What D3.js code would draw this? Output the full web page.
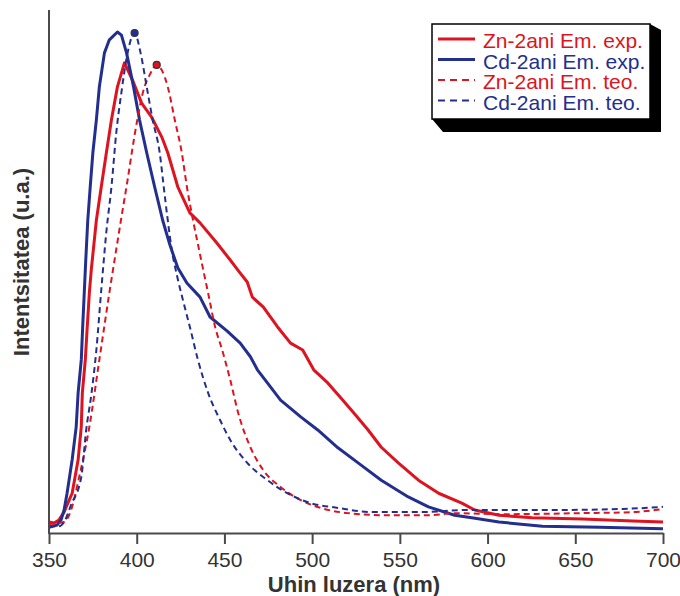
<!DOCTYPE html>
<html>
<head>
<meta charset="utf-8">
<script src="https://cdn.jsdelivr.net/npm/d3@7"></script>
<style>
  body { margin: 0; background: #fff; }
  text { font-family: Arial, "Liberation Sans", sans-serif; }
</style>
</head>
<body>
<div id="chart"></div>
<script>
// emission spectra, intensity (arbitrary units, 0-100)
var ticksNm = [350, 400, 450, 500, 550, 600, 650, 700];

var znExpNm = [350,352.9,355.7,358.6,361.5,363.2,366.6,368.4,369.0,370.7,371.8,373.0,374.1,377.0,379.8,382.7,385.6,389.0,393.0,397.6,402.8,408.5,414.3,417.7,423.4,430.3,436.1,445.8,453.3,459.0,463.0,465.9,472.2,480.3,487.7,494.6,500.9,508.9,516.4,523.9,531.9,539.4,549.1,560.6,572.1,585.3,592.7,606.5,625.4,654.1,682.8,700];
var znExpI = [2.1,1.9,2.5,4.0,6.3,7.6,14.0,20.3,26.8,33.1,39.4,45.9,50.3,59.8,66.2,72.7,79.0,85.3,89.9,86.6,82.2,79.5,75.7,72.7,66.2,61.2,59.3,55.4,52.2,49.7,48.0,45.1,43.2,39.4,36.3,35.0,31.2,28.7,25.8,22.9,19.7,16.4,13.4,10.1,7.6,5.7,4.4,3.4,2.9,2.7,2.3,2.1];

var cdExpNm = [350,354.6,356.9,358.6,360.3,363.2,365.5,366.6,368.4,369.2,370.1,370.9,372.1,373.5,375.0,377.0,378.7,381.6,384.4,389.0,391.3,394.2,398.2,401.6,405.7,410.2,414.8,418.9,423.4,428.6,436.1,441.8,451.6,459.0,464.8,468.8,474.5,482.0,493.5,503.2,514.7,526.2,539.4,554.8,566.3,581.2,591.0,606.5,631.2,663.9,700];
var cdExpI = [1.1,1.5,2.5,4.4,7.6,14.0,20.3,26.8,33.1,39.4,45.9,51.8,59.8,66.2,72.7,79.0,85.3,91.8,94.3,95.8,95.2,91.8,85.3,79.0,72.7,66.2,59.8,55.1,50.7,47.8,45.1,41.3,38.6,36.3,33.7,31.2,28.7,25.4,22.2,19.7,16.3,13.4,10.1,6.9,5.0,3.4,2.9,2.1,1.3,1.1,0.8];

var znTeoNm = [350,358.6,362.6,367.2,373.0,378.7,384.4,387.9,391.3,394.8,397.6,400.5,403.9,407.4,411.4,414.3,417.7,421.7,425.7,428.6,432.1,434.9,437.8,440.7,444.7,448.7,453.3,457.9,464.8,472.2,482.0,493.5,504.9,520.4,543.4,566.3,581.2,608.2,654.1,682.8,700];
var znTeoI = [1.7,2.1,4.4,10.7,20.3,33.1,45.9,53.3,60.4,67.5,73.6,79.3,84.7,87.6,89.5,88.5,85.3,79.0,72.7,66.2,59.8,55.2,50.5,45.9,39.4,35.0,29.3,22.9,16.4,12.0,8.8,6.3,4.8,3.8,3.4,3.4,3.8,3.6,3.8,4.0,4.6];

var cdTeoNm = [350,355.7,358.6,362.6,368.4,371.2,374.1,377.0,379.8,382.7,385.6,388.4,391.3,394.8,398.8,402.2,405.7,409.1,413.1,415.4,417.7,420.0,422.9,426.3,430.3,434.9,440.7,447.5,453.3,463.0,474.5,486.0,499.2,514.7,533.6,562.3,589.3,636.9,677.1,700];
var cdTeoI = [1.3,1.3,2.1,5.4,10.7,19.7,26.4,35.0,46.5,57.6,66.2,76.7,84.3,91.8,95.6,91.8,85.3,79.0,72.7,66.2,59.8,54.1,49.3,44.6,39.4,33.1,26.8,21.6,17.8,13.4,10.1,7.6,5.7,4.8,4.0,4.0,4.4,4.4,4.6,5.0];

var seriesNames = ["Zn-2ani Em. exp.", "Cd-2ani Em. exp.", "Zn-2ani Em. teo.", "Cd-2ani Em. teo."];

var red = "#dd1420", blue = "#232f8e";

var series = [
  {name: seriesNames[0], nm: znExpNm, val: znExpI, color: red, dash: null, w: 3},
  {name: seriesNames[1], nm: cdExpNm, val: cdExpI, color: blue, dash: null, w: 3},
  {name: seriesNames[2], nm: znTeoNm, val: znTeoI, color: red, dash: "6,4", w: 2},
  {name: seriesNames[3], nm: cdTeoNm, val: cdTeoI, color: blue, dash: "6,4", w: 2}
];

var width = 680, height = 596;
var svg = d3.select("#chart")
  .append("svg")
  .attr("width", width)
  .attr("height", height);

var x = d3.scaleLinear().domain([350, 700]).range([49, 663]);
var y = d3.scaleLinear().domain([0, 100]).range([533, 10]);

// curves
series.forEach(function(s) {
  var pts = s.nm.map(function(d, i) { return [d, s.val[i]]; });
  var line = d3.line()
    .x(function(d) { return x(d[0]); })
    .y(function(d) { return y(d[1]); })
    .curve(s.dash ? d3.curveMonotoneX : d3.curveLinear);
  svg.append("path")
    .datum(pts)
    .attr("fill", "none")
    .attr("stroke", s.color)
    .attr("stroke-width", s.w)
    .attr("stroke-linejoin", "round")
    .attr("stroke-dasharray", s.dash)
    .attr("d", line);
  // small dot on the peak of the theoretical ones
  if (s.dash) {
    var k = d3.maxIndex(s.val);
    svg.append("circle")
      .attr("cx", x(s.nm[k]))
      .attr("cy", y(s.val[k]))
      .attr("r", 3.5)
      .attr("fill", s.color)
      .attr("stroke", "#333")
      .attr("stroke-width", 1.2);
  }
});

// axes
var xAxis = svg.append("g")
  .attr("transform", "translate(0," + y(0) + ")")
  .call(d3.axisBottom(x).tickValues(ticksNm).tickSize(11).tickSizeOuter(0).tickPadding(8));
xAxis.select(".domain").attr("stroke", "#4a4a4a").attr("stroke-width", 2);
xAxis.selectAll(".tick line").attr("stroke", "#4a4a4a").attr("stroke-width", 2);
xAxis.selectAll(".tick text")
  .attr("fill", "#333")
  .style("font-size", "21px")
  .style("font-family", "Arial, 'Liberation Sans', sans-serif");

svg.append("line")
  .attr("x1", x(350)).attr("x2", x(350))
  .attr("y1", y(100)).attr("y2", y(0) + 1)
  .attr("stroke", "#4a4a4a")
  .attr("stroke-width", 2);

svg.append("text")
  .text("Uhin luzera (nm)")
  .attr("x", 354)
  .attr("y", 592)
  .attr("text-anchor", "middle")
  .attr("fill", "#333")
  .style("font-size", "22px")
  .style("font-weight", "bold");

svg.append("text")
  .text("Intentsitatea (u.a.)")
  .attr("transform", "translate(29,262) rotate(-90)")
  .attr("text-anchor", "middle")
  .attr("fill", "#333")
  .style("font-size", "22px")
  .style("font-weight", "bold");

// legend box with the 3d shadow
var bx = 432, by = 24, bw = 218, bh = 95;
svg.append("polygon")
  .attr("points", [[bx + bw, by], [bx + bw + 11, by + 6], [bx + bw + 11, by + bh + 13], [bx + 11, by + bh + 13], [bx, by + bh]].join(" "))
  .attr("fill", "#000");
svg.append("rect")
  .attr("x", bx).attr("y", by)
  .attr("width", bw).attr("height", bh)
  .attr("fill", "#fff")
  .attr("stroke", "#000")
  .attr("stroke-width", 1.5);

var leg = svg.append("g").selectAll("g")
  .data(series)
  .join("g")
  .attr("transform", function(d, i) { return "translate(0," + (48 + i * 20.5) + ")"; });
leg.append("line")
  .attr("x1", 438).attr("x2", 475)
  .attr("y1", -9).attr("y2", -9)
  .attr("stroke", function(d) { return d.color; })
  .attr("stroke-width", function(d) { return d.w; })
  .attr("stroke-dasharray", function(d) { return d.dash ? "7,5" : null; });
leg.append("text")
  .text(function(d) { return d.name; })
  .attr("x", 483)
  .attr("fill", function(d) { return d.color; })
  .style("font-size", "21px");
</script>
</body>
</html>
